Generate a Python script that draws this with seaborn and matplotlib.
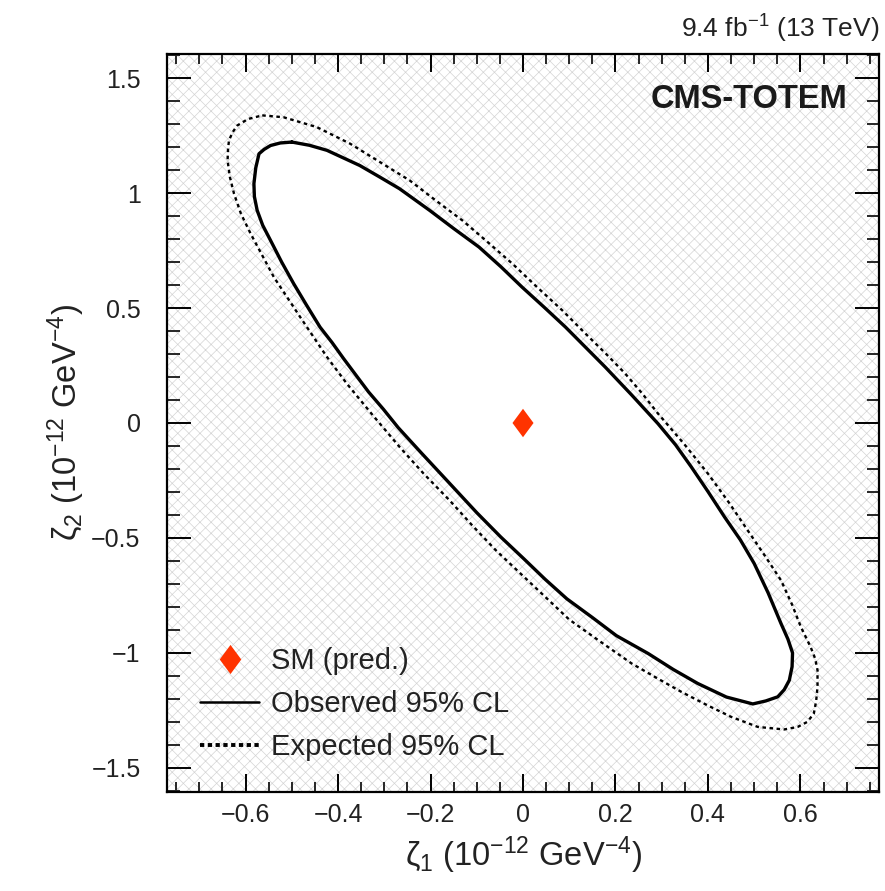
import matplotlib
matplotlib.use("Agg")
import matplotlib.pyplot as plt
import seaborn as sns
import numpy as np
import pandas as pd
from matplotlib.patches import Rectangle
from matplotlib.lines import Line2D
from matplotlib.ticker import MultipleLocator

# ---- data ----
obs_zeta1 = [-0.500, -0.462, -0.424, -0.353, -0.310, -0.267, -0.202, -0.150, -0.095,
             -0.048, -0.002, 0.045, 0.092, 0.135, 0.178, 0.235, 0.292, 0.330, 0.364,
             0.400, 0.436, 0.470, 0.500, 0.530, 0.558, 0.573, 0.583, 0.582, 0.576,
             0.565, 0.551, 0.525, 0.497, 0.440, 0.378, 0.325, 0.271, 0.202, 0.150,
             0.095, 0.048, 0.002, -0.048, -0.100, -0.165, -0.220, -0.270, -0.302,
             -0.334, -0.362, -0.388, -0.413, -0.439, -0.468, -0.496, -0.522,
             -0.546, -0.563, -0.575, -0.581, -0.582, -0.578, -0.571, -0.560,
             -0.546, -0.525, -0.500]
obs_zeta2 = [1.222, 1.208, 1.186, 1.120, 1.070, 1.019, 0.925, 0.846, 0.765,
             0.680, 0.591, 0.505, 0.417, 0.330, 0.243, 0.122, -0.003, -0.095, -0.191,
             -0.298, -0.409, -0.508, -0.611, -0.738, -0.872, -0.940, -1.000, -1.060,
             -1.119, -1.160, -1.191, -1.209, -1.222, -1.192, -1.133, -1.072, -1.003,
             -0.925, -0.846, -0.765, -0.680, -0.591, -0.496, -0.390, -0.249, -0.130,
             -0.020, 0.060, 0.135, 0.210, 0.280, 0.350, 0.417, 0.512, 0.606, 0.700,
             0.794, 0.860, 0.925, 0.985, 1.041, 1.110, 1.171, 1.190, 1.207, 1.218,
             1.222]

exp_zeta1 = [-0.564, -0.518, -0.446, -0.374, -0.274, -0.245, -0.190, -0.131, -0.077,
             -0.023, 0.031, 0.085, 0.135, 0.180, 0.221, 0.258, 0.292, 0.348, 0.400,
             0.445, 0.486, 0.524, 0.558, 0.582, 0.601, 0.622, 0.632, 0.637, 0.637,
             0.634, 0.629, 0.615, 0.594, 0.565, 0.508, 0.450, 0.397, 0.343, 0.290,
             0.235, 0.163, 0.100, 0.050, -0.059, -0.110, -0.159, -0.215, -0.267,
             -0.325, -0.381, -0.424, -0.482, -0.539, -0.589, -0.610, -0.625,
             -0.634, -0.639, -0.638, -0.636, -0.628, -0.618, -0.595, -0.564]
exp_zeta2 = [1.338, 1.330, 1.287, 1.215, 1.091, 1.055, 0.970, 0.881, 0.788,
             0.693, 0.590, 0.490, 0.389, 0.300, 0.215, 0.128, 0.041, -0.090, -0.220,
             -0.345, -0.467, -0.580, -0.684, -0.790, -0.887, -0.974, -1.025, -1.075,
             -1.148, -1.210, -1.264, -1.300, -1.322, -1.333, -1.322, -1.278, -1.226,
             -1.170, -1.110, -1.046, -0.945, -0.855, -0.760, -0.553, -0.445, -0.336,
             -0.220, -0.104, 0.034, 0.171, 0.287, 0.461, 0.635, 0.823, 0.910,
             0.997, 1.070, 1.142, 1.190, 1.229, 1.265, 1.294, 1.322, 1.338]

sm_zeta1 = [0.0]
sm_zeta2 = [0.0]

x_label = r"$\mathregular{\zeta_{1}\ (10^{-12}\ GeV^{-4})}$"
y_label = r"$\mathregular{\zeta_{2}\ (10^{-12}\ GeV^{-4})}$"
legend_labels = ["SM (pred.)", "Observed 95% CL", "Expected 95% CL"]
lumi_text = r"9.4 fb$^{\mathregular{-1}}$ (13 TeV)"
tag_text = "CMS-TOTEM"

# ---- style ----
sns.set_theme(style="ticks")
plt.rcParams["font.family"] = ["Liberation Sans", "DejaVu Sans"]
plt.rcParams["mathtext.fontset"] = "custom"
plt.rcParams["mathtext.rm"] = "Liberation Sans"
plt.rcParams["mathtext.it"] = "Liberation Sans:italic"
plt.rcParams["mathtext.bf"] = "Liberation Sans:bold"
plt.rcParams["hatch.linewidth"] = 0.5

TXT = "#222222"
RED = "#ff3300"
diamond = [(0, 1), (0.74, 0), (0, -1), (-0.74, 0), (0, 1)]

fig = plt.figure(figsize=(8.85, 8.91), dpi=100)
ax = fig.add_axes([167/885, 1 - 792/891, 712/885, 738/891])

ax.set_xlim(-0.77, 0.77)
ax.set_ylim(-1.605, 1.605)

# hatched excluded background
bg = Rectangle((0, 0), 1, 1, transform=ax.transAxes, facecolor="white",
               edgecolor="#d4d4d4", hatch="xxx", linewidth=0, zorder=0)
ax.add_patch(bg)

# allowed region (inside observed contour) in white
ax.fill(obs_zeta1, obs_zeta2, color="white", zorder=1, linewidth=0)

obs_df = pd.DataFrame({"z1": obs_zeta1, "z2": obs_zeta2})
exp_df = pd.DataFrame({"z1": exp_zeta1, "z2": exp_zeta2})
sns.lineplot(data=exp_df, x="z1", y="z2", sort=False, estimator=None, ax=ax,
             color="black", linewidth=1.7, linestyle=(0, (1.5, 1.5)), zorder=3)
sns.lineplot(data=obs_df, x="z1", y="z2", sort=False, estimator=None, ax=ax,
             color="black", linewidth=2.4, zorder=4, solid_joinstyle="round")
sm_df = pd.DataFrame({"z1": sm_zeta1, "z2": sm_zeta2})
sns.scatterplot(data=sm_df, x="z1", y="z2", ax=ax, marker=diamond, s=420,
                color=RED, edgecolor="none", zorder=5)

# axes styling
for sp in ax.spines.values():
    sp.set_linewidth(1.6)
    sp.set_color("black")
    sp.set_visible(True)
ax.xaxis.set_minor_locator(MultipleLocator(0.05))
ax.yaxis.set_minor_locator(MultipleLocator(0.1))
ax.set_xticks([-0.6, -0.4, -0.2, 0, 0.2, 0.4, 0.6])
ax.set_xticklabels(["\u22120.6", "\u22120.4", "\u22120.2", "0", "0.2", "0.4", "0.6"])
ax.set_yticks([-1.5, -1, -0.5, 0, 0.5, 1, 1.5])
ax.set_yticklabels(["\u22121.5", "\u22121", "\u22120.5", "0", "0.5", "1", "1.5"])
ax.tick_params(axis="x", which="major", direction="in", length=13, width=1.4,
               top=True, bottom=True, labelsize=18, pad=8, colors="black")
ax.tick_params(axis="x", which="minor", direction="in", length=7, width=1.4,
               top=True, bottom=True)
ax.tick_params(axis="y", which="major", direction="in", length=17, width=1.4,
               left=True, right=True, labelsize=18, pad=19, colors="black")
ax.tick_params(axis="y", which="minor", direction="in", length=9, width=1.4,
               left=True, right=True)
for lab in ax.get_xticklabels() + ax.get_yticklabels():
    lab.set_color(TXT)

ax.set_xlabel(x_label, fontsize=23.5, color=TXT)
ax.set_ylabel(y_label, fontsize=23.5, color=TXT)
ax.xaxis.set_label_coords(0.5, -0.057)
ax.yaxis.set_label_coords(-0.112, 0.5)

# texts
ax.text(1.0, 1.012, lumi_text, transform=ax.transAxes, ha="right", va="bottom",
        fontsize=19, color=TXT)
ax.text(0.955, 0.938, tag_text, transform=ax.transAxes, ha="right", va="center",
        fontsize=23.5, fontweight="bold", color="#1a1a1a")

# legend
handles = [
    Line2D([], [], marker=diamond, color=RED, markeredgecolor="none",
           linestyle="none", markersize=21),
    Line2D([], [], color="black", linewidth=1.8),
    Line2D([], [], color="black", linewidth=2.8, linestyle=(0, (1.1, 0.9))),
]
leg = ax.legend(handles, legend_labels, loc="lower left", bbox_to_anchor=(0.009, 0.006),
                frameon=False, fontsize=21, handlelength=2.05, handletextpad=0.4,
                labelspacing=0.52)
for t in leg.get_texts():
    t.set_color(TXT)

fig.savefig("out.png", dpi=100)
